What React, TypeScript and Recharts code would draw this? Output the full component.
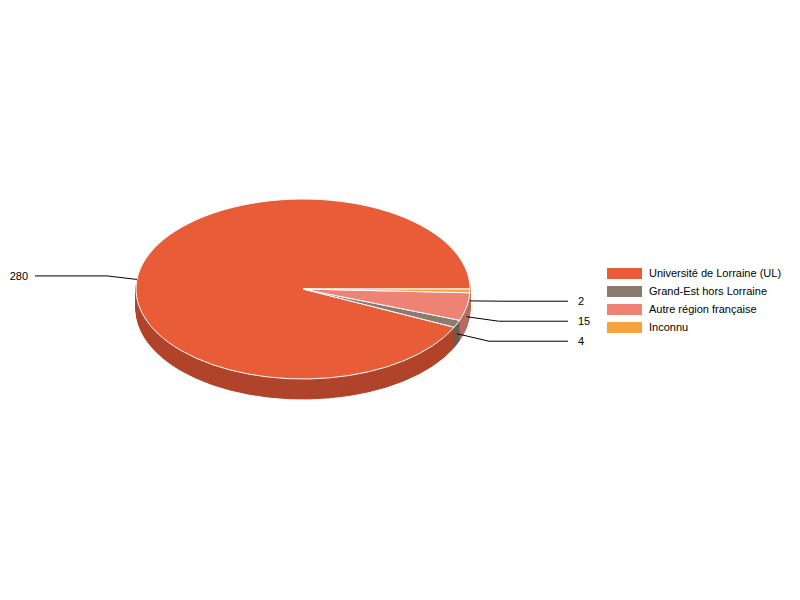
import React from 'react';
import { PieChart, Pie, Cell, Legend } from 'recharts';

// ---- data ----
const categories = [
  'Université de Lorraine (UL)',
  'Grand-Est hors Lorraine',
  'Autre région française',
  'Inconnu',
];
const values = [280, 4, 15, 2];
const topColors = ['#E85D38', '#8B7A6E', '#EE8274', '#F5A23F'];
const sideColors = ['#B0442A', '#6B5B50', '#B86B60', '#C07A30'];

// ---- layout ----
const W = 800;
const H = 600;
const CX = 303;
const CY = 289;
const RX = 167;
const RY = 90;
const DEPTH = 20;
const LABEL_RADIUS = 30;
const SCALE = RY / RX;
const FONT = '"Liberation Sans", Arial, Helvetica, sans-serif';

const data = categories.map((name, i) => ({ name, value: values[i] }));
const depthLayers = Array.from({ length: DEPTH }, (_, i) => DEPTH - i);

// label overlap avoidance (per side, push labels down by min spacing)
const total = values.reduce((a, b) => a + b, 0);
const labelY: number[] = (() => {
  let acc = 0;
  const pts = values.map((v, i) => {
    const mid = ((acc + v / 2) / total) * 360;
    acc += v;
    const rad = (mid * Math.PI) / 180;
    return {
      i,
      right: Math.cos(rad) >= 0,
      y: CY - (RX + LABEL_RADIUS) * SCALE * Math.sin(rad) + DEPTH / 2,
    };
  });
  const out: number[] = [];
  [true, false].forEach((side) => {
    const s = pts.filter((p) => p.right === side).sort((a, b) => a.y - b.y);
    let prev = -Infinity;
    s.forEach((p) => {
      const y = Math.max(p.y, prev + 20);
      out[p.i] = y;
      prev = y;
    });
  });
  return out;
})();

const renderLabel = (props: any) => {
  const { cx, cy, midAngle, outerRadius, index, value } = props;
  const rad = (midAngle * Math.PI) / 180;
  const right = Math.cos(rad) >= 0;
  const sx = cx + outerRadius * Math.cos(rad) + (right ? 0 : -3);
  const sy = cy - outerRadius * SCALE * Math.sin(rad) + DEPTH / 2;
  const ex = sx + (right ? 32 : -30);
  const ey = labelY[index];
  const lx = right ? 568 : 35;
  const tx = right ? 578 : 28;
  return (
    <g>
      <polyline
        points={`${sx},${sy} ${ex},${ey} ${lx},${ey}`}
        fill="none"
        stroke="#000"
        strokeWidth={1}
      />
      <text
        x={tx}
        y={ey}
        dy={4}
        textAnchor={right ? 'start' : 'end'}
        fontSize={11}
        fontFamily={FONT}
        fill="#000"
      >
        {value}
      </text>
    </g>
  );
};

const renderLegend = () => (
  <div style={{ fontFamily: FONT, fontSize: 11, color: '#000' }}>
    {categories.map((name, i) => (
      <div key={name} style={{ display: 'flex', alignItems: 'center', height: 18 }}>
        <span
          style={{
            display: 'inline-block',
            width: 35,
            height: 11,
            background: topColors[i],
            marginRight: 7,
          }}
        />
        <span>{name}</span>
      </div>
    ))}
  </div>
);

const css = `
body { margin: 0; }
.recharts-pie .recharts-sector {
  transform-box: view-box;
  transform-origin: ${CX}px ${CY}px;
  transform: scaleY(${SCALE});
  vector-effect: non-scaling-stroke;
}
`;

export default function App() {
  return (
    <div style={{ width: W, height: H, background: '#fff', fontFamily: FONT, position: 'relative' }}>
      <style>{css}</style>
      <PieChart width={W} height={H} margin={{ top: 0, right: 0, bottom: 0, left: 0 }}>
        {depthLayers.map((k) => (
          <Pie
            key={`side-${k}`}
            data={data}
            dataKey="value"
            nameKey="name"
            cx={CX}
            cy={CY + k / SCALE}
            innerRadius={0}
            outerRadius={RX}
            startAngle={0}
            endAngle={360}
            isAnimationActive={false}
            legendType="none"
            labelLine={false}
            label={false}
          >
            {data.map((d, i) => (
              <Cell key={d.name} fill={sideColors[i]} stroke={sideColors[i]} strokeWidth={1} />
            ))}
          </Pie>
        ))}
        <Pie
          data={data}
          dataKey="value"
          nameKey="name"
          cx={CX}
          cy={CY}
          innerRadius={0}
          outerRadius={RX}
          startAngle={0}
          endAngle={360}
          isAnimationActive={false}
          legendType="rect"
          labelLine={false}
          label={renderLabel}
        >
          {data.map((d, i) => (
            <Cell key={d.name} fill={topColors[i]} stroke="#fff" strokeWidth={1} />
          ))}
        </Pie>
        <Legend
          content={renderLegend}
          layout="vertical"
          align="right"
          verticalAlign="top"
          wrapperStyle={{ position: 'absolute', left: 607, top: 264, width: 190 }}
        />
      </PieChart>
    </div>
  );
}
